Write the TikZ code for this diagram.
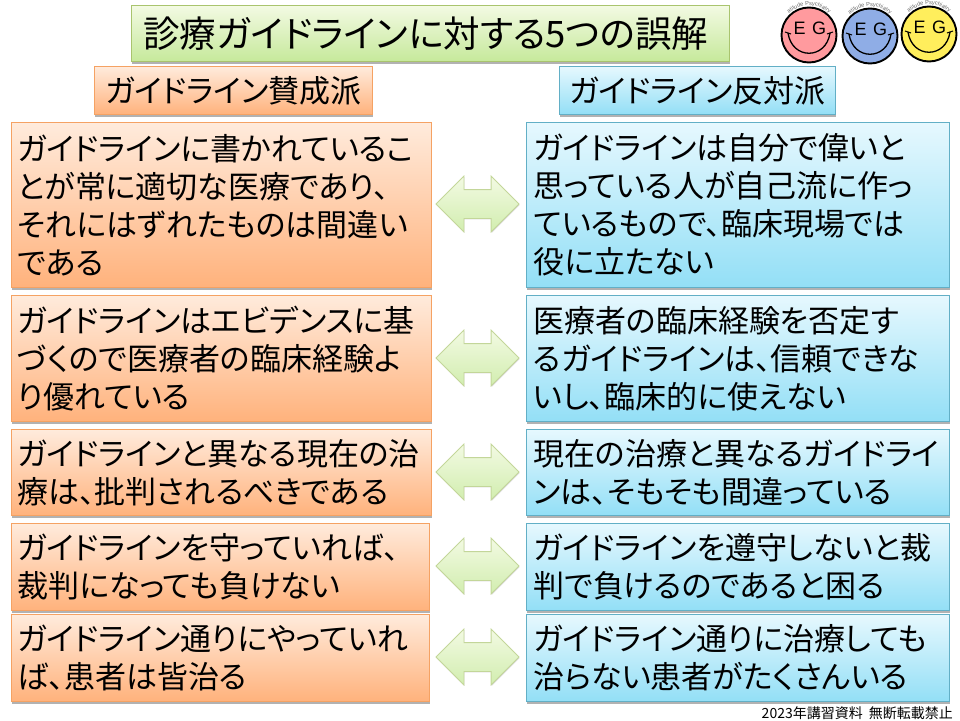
\documentclass[tikz,border=0pt]{standalone}
\usepackage{fontspec}
\setmainfont[RawFeature=+palt]{Noto Sans CJK JP}
\newfontfamily\latinfont{Liberation Sans}
\usetikzlibrary{shadows,shapes.arrows,decorations.text}
\definecolor{orangeTop}{HTML}{FFEBDC}
\definecolor{orangeBot}{HTML}{FFB27C}
\definecolor{orangeLine}{HTML}{F5A263}
\definecolor{blueTop}{HTML}{E6F8FE}
\definecolor{blueBot}{HTML}{93DFF6}
\definecolor{blueLine}{HTML}{62AFC6}
\definecolor{greenTop}{HTML}{F3FAE3}
\definecolor{greenBot}{HTML}{C6E99B}
\definecolor{greenLine}{HTML}{A9C46E}
\definecolor{logoPink}{HTML}{FF9A9E}
\definecolor{logoBlue}{HTML}{8FADE6}
\definecolor{logoYellow}{HTML}{FFEE5C}
\tikzset{
  softshadow/.style={drop shadow={shadow xshift=1pt,shadow yshift=-2.5pt,opacity=.3,fill=black}},
  panel/.style={draw,line width=.8pt,softshadow,inner ysep=0pt,align=left,anchor=north west,text=black},
  orangepanel/.style={panel,draw=orangeLine,top color=orangeTop,bottom color=orangeBot},
  bluepanel/.style={panel,draw=blueLine,top color=blueTop,bottom color=blueBot},
  greenpanel/.style={panel,draw=greenLine,top color=greenTop,bottom color=greenBot},
  leftbody/.style={orangepanel,minimum width=420pt,text width=408pt,inner xsep=6pt,font=\fontsize{31pt}{38pt}\selectfont},
  rightbody/.style={bluepanel,minimum width=423pt,text width=409pt,inner xsep=7pt,font=\fontsize{31pt}{38pt}\selectfont},
  linkarrow/.style={double arrow,double arrow head extend=13.5pt,minimum height=83pt,minimum width=55pt,inner xsep=0pt,inner ysep=14pt,
    draw=greenLine!70,line width=.8pt,top color=greenTop,bottom color=greenBot!80,drop shadow={shadow xshift=.5pt,shadow yshift=-1pt,opacity=.15,fill=black}},
  header/.style={align=center,anchor=center,inner sep=0pt,font=\fontsize{31pt}{34pt}\selectfont,minimum height=48pt},
}
\newcommand{\smiley}[3]{%
  \begin{scope}[shift={#1},y=1pt,x=1pt]
    \draw[fill=#2,line width=1.9pt] (0,0) circle (27.5pt);
    \draw[line width=1.3pt] (-21,2) .. controls (-17,-25) and (17,-25) .. (21,2);
    \draw[line width=1pt] (-24,3) -- (-18,1) (24,3) -- (18,1);
    \node[inner sep=0pt,font=\latinfont\fontsize{18pt}{18pt}\selectfont] (#3E) at (-9.5,7) {E};
    \node[inner sep=0pt,font=\latinfont\fontsize{18pt}{18pt}\selectfont] (#3G) at (10,7) {G};
    \path[decorate,decoration={text along path,text align=center,
      text={|\latinfont\fontsize{5.6pt}{6pt}\selectfont\color{black!60}|atitude Psychiatry}}]
      (145:29.5pt) arc (145:35:29.5pt);
  \end{scope}}
\begin{document}
\begin{tikzpicture}[x=1pt,y=-1pt]
\useasboundingbox (0,0) rectangle (960,720);

\node[greenpanel,minimum width=598pt,minimum height=56pt,inner xsep=0pt,align=center,font=\fontsize{36.5pt}{40pt}\selectfont] (title) at (131,5) {\hspace{-9pt}診療ガイドラインに対する5つの誤解};

\node[orangepanel,header,anchor=north west,minimum width=278pt] (headL) at (94,66) {ガイドライン賛成派};
\node[bluepanel,header,anchor=north west,minimum width=276pt] (headR) at (559,66) {ガイドライン反対派};

\node[leftbody,minimum height=165pt] (L1) at (11,122) {ガイドラインに書かれているこ\\とが常に適切な医療であり、\\それにはずれたものは間違い\\である};
\node[leftbody,minimum height=126pt] (L2) at (11,295) {ガイドラインはエビデンスに基\\づくので医療者の臨床経験よ\\り優れている};
\node[leftbody,minimum height=86pt] (L3) at (11,429) {ガイドラインと異なる現在の治\\療は、批判されるべきである};
\node[leftbody,minimum width=418pt,text width=406pt,minimum height=87pt] (L4) at (11,523) {ガイドラインを守っていれば、\\裁判になっても負けない};
\node[leftbody,minimum width=418pt,text width=406pt,minimum height=87pt] (L5) at (11,614) {ガイドライン通りにやっていれ\\ば、患者は皆治る};

\node[rightbody,minimum height=165pt] (R1) at (526,122) {ガイドラインは自分で偉いと\\思っている人が自己流に作っ\\ているもので、臨床現場では\\役に立たない};
\node[rightbody,minimum height=126pt] (R2) at (526,295) {医療者の臨床経験を否定す\\るガイドラインは、信頼できな\\いし、臨床的に使えない};
\node[rightbody,minimum height=86pt] (R3) at (526,429) {現在の治療と異なるガイドライ\\ンは、そもそも間違っている};
\node[rightbody,minimum height=87pt] (R4) at (526,523) {ガイドラインを遵守しないと裁\\判で負けるのであると困る};
\node[rightbody,minimum height=87pt] (R5) at (526,614) {ガイドライン通りに治療しても\\治らない患者がたくさんいる};

\node[linkarrow] (A1) at (477.5,204) {};
\node[linkarrow] (A2) at (477.5,358) {};
\node[linkarrow] (A3) at (477.5,472) {};
\node[linkarrow] (A4) at (477.5,566) {};
\node[linkarrow] (A5) at (477.5,657) {};

\smiley{(809,35)}{logoPink}{p}
\smiley{(870,36)}{logoBlue}{b}
\smiley{(929,34)}{logoYellow}{y}

\node[anchor=east,inner sep=0pt,font=\fontsize{14pt}{15pt}\selectfont] (foot) at (953,713) {2023年講習資料\hspace{6pt}無断転載禁止};
\end{tikzpicture}
\end{document}
